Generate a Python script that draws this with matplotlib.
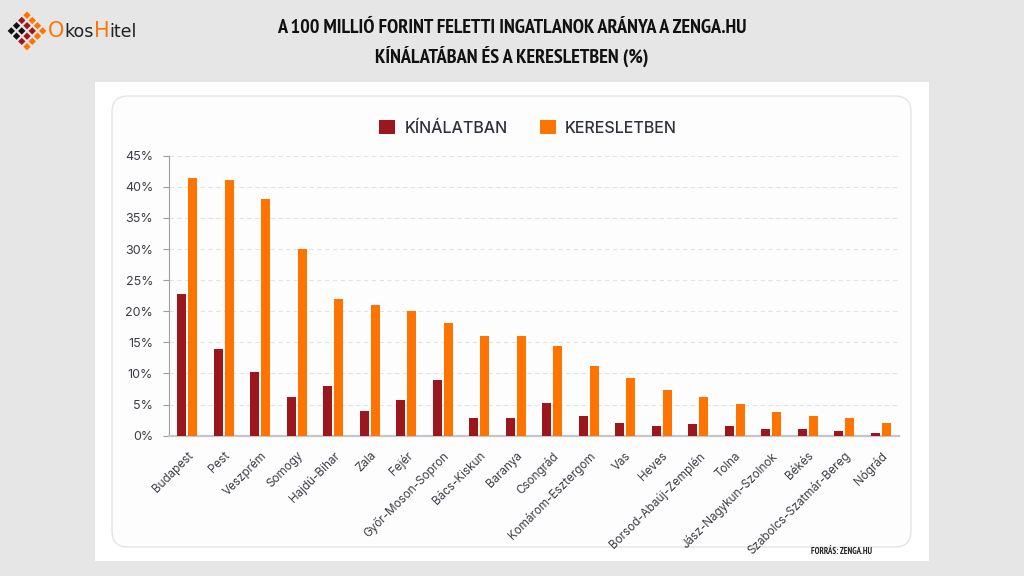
import matplotlib
matplotlib.use("Agg")
import matplotlib.pyplot as plt
import numpy as np
from matplotlib.patches import Rectangle, FancyBboxPatch, Patch
from matplotlib.transforms import IdentityTransform
from matplotlib.offsetbox import TextArea, HPacker, AnnotationBbox
from matplotlib import font_manager as fm

# ---- data ----
counties = ["Budapest", "Pest", "Veszprém", "Somogy", "Hajdú-Bihar", "Zala", "Fejér",
            "Győr-Moson-Sopron", "Bács-Kiskun", "Baranya", "Csongrád", "Komárom-Esztergom",
            "Vas", "Heves", "Borsod-Abaúj-Zemplén", "Tolna", "Jász-Nagykun-Szolnok",
            "Békés", "Szabolcs-Szatmár-Bereg", "Nógrád"]
kinalat = [22.8, 14.0, 10.2, 6.3, 8.0, 4.0, 5.8, 8.9, 2.9, 2.9, 5.3, 3.1,
           2.1, 1.6, 1.9, 1.5, 1.1, 1.0, 0.7, 0.4]
kereslet = [41.4, 41.1, 38.1, 30.0, 22.0, 21.0, 20.0, 18.1, 16.1, 16.0, 14.4, 11.2,
            9.3, 7.3, 6.2, 5.1, 3.8, 3.2, 2.9, 2.0]
yticks = [0, 5, 10, 15, 20, 25, 30, 35, 40, 45]
series_labels = ["KÍNÁLATBAN", "KERESLETBEN"]
title_lines = "A 100 MILLIÓ FORINT FELETTI INGATLANOK ARÁNYA A ZENGA.HU\nKÍNÁLATÁBAN ÉS A KERESLETBEN (%)"
source = "FORRÁS: ZENGA.HU"

RED = "#9c161d"
ORANGE = "#ff7400"
W, H = 1024, 576

# pick a narrow / condensed bold font if one is installed
narrow, cond = [], []
for f in fm.fontManager.ttflist:
    n = (f.fname + " " + f.name).lower()
    if "bold" not in n or "oblique" in n or "italic" in n:
        continue
    if "narrow" in n:
        narrow.append(f.fname)
    elif "condensed" in n:
        cond.append(f.fname)
narrow.sort()
cond.sort()
cond_path = (narrow + cond)[0] if (narrow + cond) else None
is_narrow = bool(narrow)
if cond_path:
    tsize = 14.5 if is_narrow else 10.5
    title_fp = fm.FontProperties(fname=cond_path, size=tsize)
    src_fp = fm.FontProperties(fname=cond_path, size=6.3 if is_narrow else 5.0)
else:
    title_fp = fm.FontProperties(family="DejaVu Sans", weight="bold", size=10)
    src_fp = fm.FontProperties(family="DejaVu Sans", weight="bold", size=4.8)

fig = plt.figure(figsize=(W / 100, H / 100), dpi=100)
fig.patch.set_facecolor("#e6e6e6")

def fx(x):
    return x / W

def fy(y):
    return 1 - y / H

# white panel
fig.patches.append(Rectangle((95, H - 561), 834, 479, transform=IdentityTransform(),
                             facecolor="white", edgecolor="none", zorder=0))
# rounded card
fig.patches.append(FancyBboxPatch((112, H - 547), 799, 451,
                                  boxstyle="round,pad=0,rounding_size=16",
                                  transform=IdentityTransform(), facecolor="#fdfdfd",
                                  edgecolor="#e4e4e4", linewidth=1.0, zorder=0.5))

# axes
ax = fig.add_axes([fx(169), fy(435.7), 730 / W, 280 / H])
ax.set_zorder(3)
ax.set_facecolor("none")
x = np.arange(len(counties))
bw = 0.25
ax.bar(x - 0.15, kinalat, width=bw, color=RED, zorder=3)
ax.bar(x + 0.15, kereslet, width=bw, color=ORANGE, zorder=3)

ax.set_xlim(-0.5, len(counties) - 0.5)
ax.set_ylim(0, 45)
ax.set_yticks(yticks)
ax.set_yticklabels([f"{v}%" for v in yticks], fontsize=9, color="#3a3d44", family="Inter")
ax.set_xticks(x)
ax.set_xticklabels(counties, rotation=45, ha="right", rotation_mode="anchor",
                   fontsize=8.4, color="#3a3d44", family="Inter")
ax.tick_params(axis="x", length=0, pad=10)
ax.tick_params(axis="y", length=4.5, width=0.8, color="#9aa0a8", pad=7)
ax.grid(axis="y", linestyle=(0, (4, 3)), color="#e3e3e3", linewidth=0.8, zorder=0)
for s in ["top", "right"]:
    ax.spines[s].set_visible(False)
ax.spines["left"].set_color("#9aa0a8")
ax.spines["left"].set_linewidth(0.8)
ax.spines["bottom"].set_color("#c3c6cc")
ax.spines["bottom"].set_linewidth(1.6)

# legend
handles = [Patch(facecolor=RED), Patch(facecolor=ORANGE)]
leg = fig.legend(handles, series_labels, loc="center", bbox_to_anchor=(fx(528), fy(128)),
                 ncol=2, frameon=False, handlelength=1.0, handleheight=1.0,
                 columnspacing=2.0, handletextpad=0.6,
                 prop={"family": "Inter", "size": 11.5, "weight": "medium"}, labelcolor="#2e3138")
leg.set_zorder(4)

# title
fig.text(0.5, fy(43), title_lines, ha="center", va="center", fontproperties=title_fp,
         color="#111111", linespacing=1.5, zorder=5)

# source
fig.text(fx(872), fy(552), source, ha="right", va="center", fontproperties=src_fp,
         color="#222222", zorder=5)

# logo diamonds
cx, cy, s = 27, 31, 7.4
for a in range(4):
    for b in range(4):
        u, v = a - 1.5, b - 1.5
        px = cx + (u + v) * s * 0.707
        py = cy + (u - v) * s * 0.707
        m = max(a, b)
        col = ORANGE if m == 3 else (RED if m == 2 else "#111111")
        fig.patches.append(Rectangle((px, H - py - 3.6), 5.2, 5.2, angle=45,
                                     transform=IdentityTransform(), facecolor=col,
                                     edgecolor="none", zorder=2))

parts = [("O", ORANGE, 15), ("kos", "#222222", 12.5), ("H", ORANGE, 15), ("itel", "#222222", 12.5)]
boxes = [TextArea(t, textprops=dict(color=c, fontsize=fs, family="DejaVu Sans"))
         for t, c, fs in parts]
pack = HPacker(children=boxes, sep=0, align="baseline")
ab = AnnotationBbox(pack, (48, H - 31), xycoords="figure pixels", box_alignment=(0, 0.5),
                    frameon=False, pad=0)
fig.add_artist(ab)

fig.savefig("out.png", dpi=100, facecolor=fig.get_facecolor())
